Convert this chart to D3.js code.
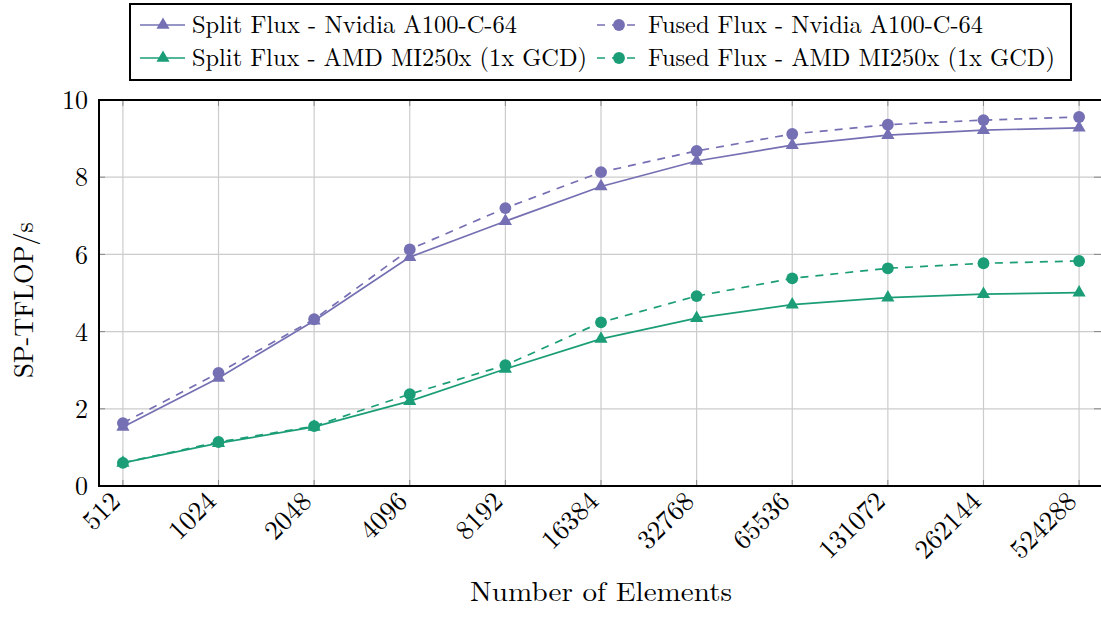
<!DOCTYPE html>
<html>
<head>
<meta charset="utf-8">
<script src="https://cdn.jsdelivr.net/npm/d3@7"></script>
<style>
  body { margin: 0; background: #fff; }
  text { font-family: "Latin Modern Roman", "CMU Serif", "DejaVu Serif", serif; fill: #000; }
</style>
</head>
<body>
<script>
var elements = ["512", "1024", "2048", "4096", "8192", "16384", "32768", "65536", "131072", "262144", "524288"];
var splitNvidia = [1.53, 2.80, 4.28, 5.93, 6.86, 7.76, 8.42, 8.83, 9.09, 9.22, 9.28];
var fusedNvidia = [1.63, 2.93, 4.32, 6.13, 7.20, 8.13, 8.68, 9.12, 9.36, 9.48, 9.56];
var splitAmd = [0.60, 1.11, 1.53, 2.20, 3.03, 3.81, 4.35, 4.70, 4.88, 4.97, 5.01];
var fusedAmd = [0.60, 1.14, 1.55, 2.38, 3.13, 4.24, 4.92, 5.38, 5.64, 5.77, 5.83];
var yTicks = [0, 2, 4, 6, 8, 10];

var purple = "#7570b3", green = "#1b9e77";

var series = [
    { name: "Split Flux - Nvidia A100-C-64", values: splitNvidia, color: purple, dash: null, mark: "tri", len: 325 },
    { name: "Fused Flux - Nvidia A100-C-64", values: fusedNvidia, color: purple, dash: "8,7", mark: "dot", len: 335 },
    { name: "Split Flux - AMD MI250x (1x GCD)", values: splitAmd, color: green, dash: null, mark: "tri", len: 395 },
    { name: "Fused Flux - AMD MI250x (1x GCD)", values: fusedAmd, color: green, dash: "8,7", mark: "dot", len: 407 }
];

// the frame runs past the right edge of the picture, as in the original
var width = 1101, height = 621,
    plotLeft = 99, plotRight = 1103, plotTop = 100, plotBottom = 486;

var svg = d3.select("body").append("svg")
    .attr("width", width)
    .attr("height", height);

var x = d3.scalePoint()
    .domain(elements)
    .range([plotLeft, plotRight])
    .padding(0.25);

var y = d3.scaleLinear()
    .domain([0, 10])
    .range([plotBottom, plotTop]);

// grid
svg.append("g").selectAll("line")
    .data(elements).enter().append("line")
    .attr("x1", function (d) { return x(d); })
    .attr("x2", function (d) { return x(d); })
    .attr("y1", plotTop).attr("y2", plotBottom)
    .style("stroke", "#cccccc").style("stroke-width", 1.2);

svg.append("g").selectAll("line")
    .data(yTicks).enter().append("line")
    .attr("x1", plotLeft).attr("x2", plotRight)
    .attr("y1", function (d) { return y(d); })
    .attr("y2", function (d) { return y(d); })
    .style("stroke", "#cccccc").style("stroke-width", 1.2);

// inner tick marks
var tickLen = 6;
var ticks = svg.append("g").style("stroke", "#888").style("stroke-width", 1);
elements.forEach(function (d) {
    ticks.append("line").attr("x1", x(d)).attr("x2", x(d)).attr("y1", plotBottom).attr("y2", plotBottom - tickLen);
    ticks.append("line").attr("x1", x(d)).attr("x2", x(d)).attr("y1", plotTop).attr("y2", plotTop + tickLen);
});
yTicks.forEach(function (d) {
    ticks.append("line").attr("x1", plotLeft).attr("x2", plotLeft + tickLen).attr("y1", y(d)).attr("y2", y(d));
    ticks.append("line").attr("x1", plotRight).attr("x2", plotRight - tickLen - 3).attr("y1", y(d)).attr("y2", y(d));
});

// y tick labels
svg.append("g").selectAll("text")
    .data(yTicks).enter().append("text")
    .attr("x", plotLeft - 11)
    .attr("y", function (d) { return y(d); })
    .attr("dy", "0.35em")
    .attr("text-anchor", "end")
    .style("font-size", "26px")
    .text(function (d) { return d; });

// x tick labels
svg.append("g").selectAll("text")
    .data(elements).enter().append("text")
    .attr("transform", function (d) { return "translate(" + (x(d) - 1) + "," + (plotBottom + 17) + ") rotate(-45)"; })
    .attr("text-anchor", "end")
    .style("font-size", "27px")
    .text(function (d) { return d; });

// axis titles
svg.append("text")
    .attr("x", 601)
    .attr("y", 601)
    .attr("text-anchor", "middle")
    .attr("textLength", 262)
    .attr("lengthAdjust", "spacingAndGlyphs")
    .style("font-size", "27px")
    .text("Number of Elements");

svg.append("text")
    .attr("transform", "translate(33,300) rotate(-90)")
    .attr("text-anchor", "middle")
    .attr("textLength", 156)
    .attr("lengthAdjust", "spacingAndGlyphs")
    .style("font-size", "27px")
    .text("SP-TFLOP/s");

// lines
var line = d3.line()
    .x(function (d, i) { return x(elements[i]); })
    .y(function (d) { return y(d); });

var triangle = d3.symbol().type(d3.symbolTriangle).size(75);
var circle = d3.symbol().type(d3.symbolCircle).size(110);

series.forEach(function (s) {
    svg.append("path")
        .datum(s.values)
        .attr("d", line)
        .style("fill", "none")
        .style("stroke", s.color)
        .style("stroke-width", 1.7)
        .style("stroke-dasharray", s.dash);

    svg.append("g").selectAll("path")
        .data(s.values).enter().append("path")
        .attr("transform", function (d, i) { return "translate(" + x(elements[i]) + "," + y(d) + ")"; })
        .attr("d", s.mark === "tri" ? triangle : circle)
        .style("fill", s.color);
});

// frame
svg.append("rect")
    .attr("x", plotLeft).attr("y", plotTop)
    .attr("width", plotRight - plotLeft).attr("height", plotBottom - plotTop)
    .style("fill", "none").style("stroke", "#000").style("stroke-width", 2);

// legend
var legend = svg.append("g");
legend.append("rect")
    .attr("x", 130).attr("y", 4)
    .attr("width", 941).attr("height", 76)
    .style("fill", "#fff").style("stroke", "#000").style("stroke-width", 2);

var cols = [140, 597], rows = [25, 58];
series.forEach(function (s, i) {
    var cx = cols[i % 2], cy = rows[Math.floor(i / 2)];
    var tri = s.mark === "tri";
    var g = legend.append("g").attr("transform", "translate(" + cx + "," + cy + ")");
    g.append("line")
        .attr("x1", 0).attr("x2", tri ? 45 : 38)
        .attr("y1", 0).attr("y2", 0)
        .style("stroke", s.color).style("stroke-width", 1.7)
        .style("stroke-dasharray", s.dash);
    g.append("path")
        .attr("transform", "translate(" + (tri ? 23 : 22) + ",0)")
        .attr("d", tri ? triangle : circle)
        .style("fill", s.color);
    g.append("text")
        .attr("x", tri ? 52 : 51)
        .attr("y", 0)
        .attr("dy", "0.32em")
        .attr("textLength", s.len)
        .attr("lengthAdjust", "spacingAndGlyphs")
        .style("font-size", "25px")
        .text(s.name);
});
</script>
</body>
</html>
